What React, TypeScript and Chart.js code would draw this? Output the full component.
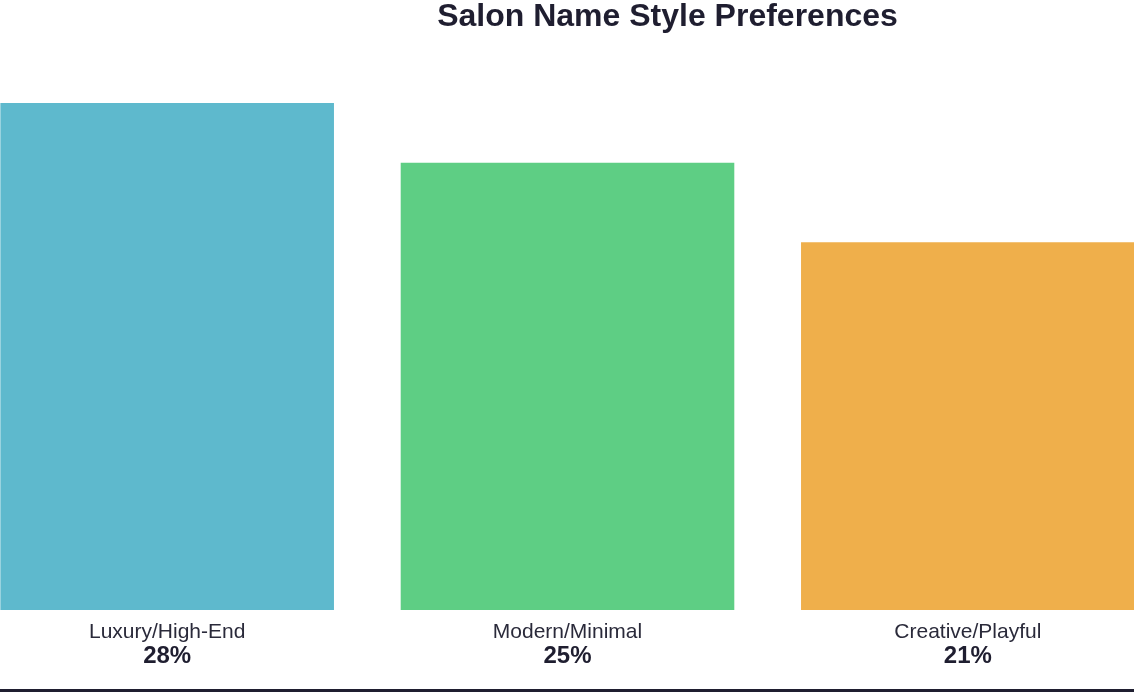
import { Chart, registerables } from 'chart.js';
import { useEffect, useRef } from 'react';

Chart.register(...registerables);

const categories = ['Luxury/High-End', 'Modern/Minimal', 'Creative/Playful'];
const shares = [28, 25, 21];
const shareLabels = ['28%', '25%', '21%'];
const barColors = ['#5EB9CD', '#5ECE84', '#EFAF4B'];

const TITLE = 'Salon Name Style Preferences';
const INK = '#1F1E30';
const FONT = '"Liberation Sans", Arial, sans-serif';

// title sits right of centre in the source, so it is drawn by hand
const titlePlugin = {
  id: 'offsetTitle',
  afterDraw(chart: Chart) {
    const { ctx } = chart;
    ctx.save();
    ctx.font = `bold 32px ${FONT}`;
    ctx.fillStyle = INK;
    ctx.textAlign = 'center';
    ctx.textBaseline = 'alphabetic';
    ctx.fillText(TITLE, chart.width / 2 + 100, 26);
    ctx.restore();
  },
};

// bold share under each category name, placed on the x scale
const shareLabelPlugin = {
  id: 'shareLabels',
  afterDraw(chart: Chart) {
    const { ctx } = chart;
    const xScale = chart.scales.x;
    ctx.save();
    ctx.font = `bold 24px ${FONT}`;
    ctx.fillStyle = INK;
    ctx.textAlign = 'center';
    ctx.textBaseline = 'middle';
    shareLabels.forEach((label, i) => {
      ctx.fillText(label, xScale.getPixelForValue(i), xScale.bottom + 1);
    });
    ctx.restore();
  },
};

const bottomRule = {
  id: 'bottomRule',
  afterDraw(chart: Chart) {
    const { ctx } = chart;
    ctx.save();
    ctx.fillStyle = INK;
    ctx.fillRect(0, chart.height - 4, chart.width, 3);
    ctx.restore();
  },
};

const App: React.FC = () => {
  const chartRef = useRef<Chart<'bar', number[], string> | null>(null);
  const canvasRef = useRef<HTMLCanvasElement | null>(null);

  useEffect(() => {
    document.body.style.margin = '0';
    if (canvasRef.current) {
      chartRef.current = new Chart(canvasRef.current, {
        type: 'bar',
        data: {
          labels: categories,
          datasets: [
            {
              data: shares,
              backgroundColor: barColors,
              borderWidth: 0,
              categoryPercentage: 1,
              barPercentage: 0.8333,
            },
          ],
        },
        options: {
          responsive: false,
          animation: false,
          layout: {
            padding: { left: 0, right: 0, top: 103, bottom: 38 },
          },
          plugins: {
            legend: { display: false },
            title: { display: false },
            tooltip: { enabled: false },
          },
          scales: {
            y: {
              display: false,
              min: 2.5,
              max: 28,
            },
            x: {
              grid: { display: false, drawTicks: false, tickLength: 0 },
              border: { display: false },
              ticks: {
                padding: 12,
                color: '#2A2A3A',
                font: { family: FONT, size: 21, lineHeight: 1 },
              },
            },
          },
        },
        plugins: [titlePlugin, shareLabelPlugin, bottomRule],
      });
    }
    return () => {
      if (chartRef.current) {
        chartRef.current.destroy();
      }
    };
  }, []);

  return (
    <div style={{ width: 1134, height: 693, overflow: 'hidden', background: '#fff' }}>
      <canvas ref={canvasRef} width={1201} height={693} style={{ marginLeft: -33, display: 'block' }} />
    </div>
  );
};

export default App;
